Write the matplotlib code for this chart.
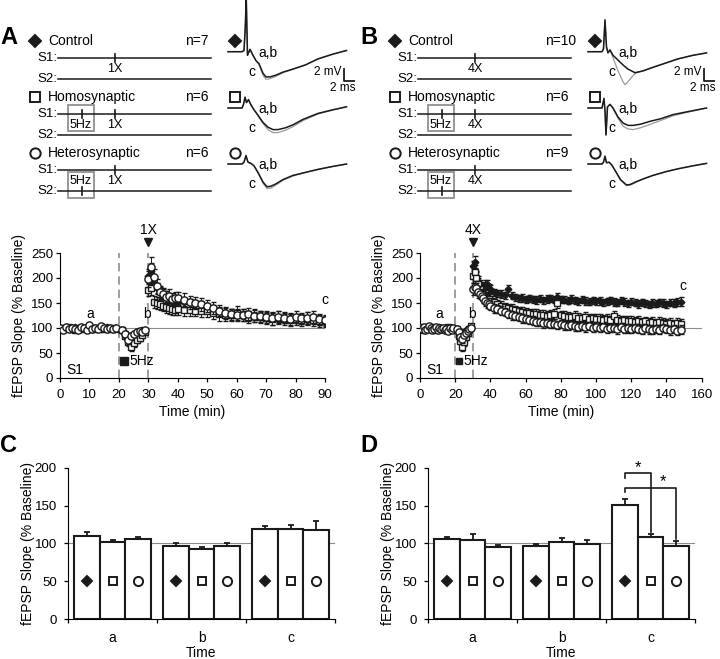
import numpy as np
import matplotlib
matplotlib.use('Agg')
from matplotlib import pyplot as plt
from matplotlib.patches import Rectangle

plt.rcParams['font.family'] = ['Liberation Sans', 'DejaVu Sans']

W, H = 720, 659
INK = '#1a1a1a'
GREY = '#8c8c8c'

# ---------------- time course data (fEPSP slope, % baseline) ----------------
# sampling: 1 min up to 40 min, then every 2 min
tA = np.r_[0:20, 21:30, 30:41, 42:91:2]
tB = np.r_[0:20, 21:30, 30:41, 42:149:2]

ctrlA = [100, 99, 101, 100, 98, 102, 100, 99, 101, 103,
         100, 98, 100, 101, 99, 100, 102, 100, 99, 100,
         96, 90, 85, 80, 88, 92, 95, 96, 97,
         205, 215, 190, 180, 172, 168, 165, 160, 158, 155, 155,
         152, 150, 148, 146, 142, 138, 135, 132, 130, 128,
         127, 126, 124, 125, 123, 122, 121, 120, 121, 119,
         118, 117, 116, 115, 114]
ctrlA_err = [2, 3, 2, 2, 3, 2, 2, 3, 2, 2,
             3, 2, 2, 2, 3, 2, 2, 2, 3, 2,
             4, 5, 6, 6, 5, 5, 4, 4, 4,
             14, 16, 12, 11, 10, 10, 9, 9, 9, 8, 8,
             8, 8, 9, 8, 8, 9, 8, 8, 9, 8,
             8, 9, 8, 8, 9, 8, 8, 9, 8, 8,
             9, 8, 8, 8, 9]
homoA = [101, 98, 100, 102, 99, 97, 101, 100, 98, 100,
         99, 101, 98, 100, 102, 99, 100, 98, 101, 99,
         96, 85, 72, 62, 70, 76, 80, 86, 93,
         176, 180, 152, 150, 148, 145, 142, 140, 138, 137, 138,
         137, 136, 135, 134, 134, 130, 128, 126, 127, 130,
         126, 122, 125, 122, 120, 118, 121, 119, 117, 118,
         116, 119, 117, 115, 114]
homoA_err = [3, 2, 3, 3, 2, 3, 2, 3, 2, 3,
             2, 3, 3, 2, 3, 2, 3, 2, 3, 2,
             5, 6, 7, 8, 7, 6, 6, 6, 5,
             12, 14, 12, 12, 12, 11, 11, 12, 12, 11, 12,
             12, 12, 11, 12, 12, 11, 13, 11, 12, 14,
             12, 12, 13, 12, 11, 12, 13, 12, 12, 11,
             12, 13, 12, 12, 11]
hetA = [100, 97, 103, 99, 101, 98, 96, 102, 100, 97,
        106, 98, 101, 99, 104, 100, 98, 101, 99, 100,
        97, 88, 76, 84, 88, 92, 95, 93, 96,
        198, 222, 203, 185, 172, 168, 162, 165, 158, 160, 160,
        156, 152, 150, 148, 145, 140, 135, 130, 128, 127,
        126, 128, 125, 124, 122, 120, 123, 121, 119, 122,
        120, 121, 123, 118, 116]
hetA_err = [3, 3, 4, 3, 3, 3, 4, 3, 3, 3,
            4, 3, 3, 3, 4, 3, 3, 3, 3, 3,
            6, 7, 8, 7, 6, 6, 5, 5, 5,
            16, 20, 16, 14, 13, 12, 12, 14, 12, 13, 12,
            14, 13, 12, 13, 12, 12, 11, 12, 11, 12,
            12, 13, 12, 11, 12, 13, 12, 11, 12, 12,
            11, 12, 12, 11, 10]

ctrlB = [100, 101, 99, 100, 102, 100, 98, 100, 101, 99,
         100, 102, 100, 99, 101, 100, 98, 100, 101, 100,
         98, 95, 92, 90, 93, 96, 98, 99, 100,
         225, 232, 205, 195, 188, 185, 182, 186, 188, 180, 178,
         172, 170, 168, 166, 178, 165, 162, 160, 161, 158,
         160, 158, 157, 159, 156, 158, 160, 157, 162, 158,
         157, 155, 158, 156, 154, 157, 155, 153, 156, 154,
         155, 152, 154, 156, 153, 151, 155, 152, 150, 153,
         151, 149, 152, 150, 148, 151, 149, 152, 150, 148,
         151, 150, 152, 153]
ctrlB_err = [2, 2, 3, 2, 2, 3, 2, 2, 2, 3,
             2, 2, 3, 2, 2, 2, 3, 2, 2, 2,
             4, 4, 5, 5, 4, 4, 4, 3, 3,
             10, 12, 9, 9, 8, 8, 8, 10, 9, 8, 8,
             7, 7, 8, 7, 9, 7, 7, 7, 8, 7,
             7, 7, 8, 7, 7, 8, 7, 7, 9, 7,
             7, 7, 8, 7, 7, 7, 8, 7, 7, 7,
             8, 7, 7, 7, 8, 7, 7, 8, 7, 7,
             7, 8, 7, 7, 7, 8, 7, 7, 8, 7,
             7, 8, 8, 9]
homoB = [102, 100, 97, 101, 99, 100, 98, 102, 100, 97,
         99, 101, 100, 98, 99, 100, 102, 99, 100, 98,
         97, 85, 75, 62, 72, 83, 90, 98, 104,
         205, 212, 200, 188, 178, 170, 165, 162, 160, 158, 155,
         152, 148, 145, 142, 140, 138, 136, 134, 133, 131,
         130, 128, 129, 127, 126, 125, 127, 128, 150, 126,
         124, 123, 122, 124, 121, 120, 122, 119, 120, 118,
         119, 117, 118, 116, 125, 117, 115, 116, 114, 115,
         113, 115, 112, 114, 111, 113, 110, 112, 111, 109,
         110, 108, 111, 109]
homoB_err = [3, 2, 3, 3, 2, 3, 2, 3, 3, 2,
             3, 2, 3, 3, 2, 3, 2, 3, 3, 2,
             5, 6, 7, 8, 7, 6, 6, 5, 5,
             14, 15, 13, 12, 12, 11, 11, 10, 10, 10, 10,
             9, 9, 10, 9, 9, 10, 9, 9, 10, 9,
             9, 10, 9, 9, 10, 9, 9, 10, 9, 9,
             10, 9, 9, 10, 9, 9, 10, 9, 9, 10,
             9, 9, 10, 9, 9, 10, 9, 9, 10, 9,
             9, 10, 9, 9, 10, 9, 9, 10, 9, 9,
             10, 9, 9, 10]
hetB = [100, 98, 102, 97, 99, 104, 101, 97, 99, 102,
        96, 100, 98, 101, 97, 99, 95, 100, 97, 101,
        99, 92, 82, 78, 86, 90, 95, 98, 100,
        178, 183, 180, 172, 168, 165, 160, 155, 150, 148, 145,
        140, 138, 135, 132, 128, 126, 124, 122, 120, 118,
        116, 115, 113, 112, 110, 111, 108, 109, 107, 108,
        106, 105, 107, 104, 103, 105, 102, 104, 101, 103,
        100, 102, 99, 101, 100, 98, 102, 99, 100, 98,
        101, 99, 97, 100, 98, 96, 99, 97, 100, 98,
        96, 99, 95, 97]
hetB_err = [3, 3, 4, 3, 3, 4, 3, 3, 3, 4,
            3, 3, 3, 4, 3, 3, 4, 3, 3, 3,
            5, 6, 7, 7, 6, 5, 5, 5, 4,
            12, 12, 11, 11, 10, 10, 10, 10, 10, 9, 9,
            9, 8, 9, 8, 8, 9, 8, 8, 9, 8,
            8, 9, 8, 8, 9, 8, 8, 9, 8, 8,
            9, 8, 8, 9, 8, 8, 9, 8, 8, 9,
            8, 8, 9, 8, 8, 9, 8, 8, 9, 8,
            8, 9, 8, 8, 9, 8, 8, 9, 8, 8,
            9, 8, 8, 9]

# ---------------- bar summaries (mean, sem) at a, b, c ----------------
groups = ['a', 'b', 'c']
barC = [[110, 97, 119], [102, 93, 119], [106, 96, 117]]
barC_err = [[5, 3, 4], [3, 2, 5], [3, 5, 13]]
barD = [[106, 97, 151], [105, 102, 109], [95, 99, 97]]
barD_err = [[2, 2, 7], [7, 5, 3], [3, 6, 6]]

# ---------------- example traces (ms, mV) ----------------
trA1_t = [0, 2.8, 3.2, 3.45, 3.65, 3.9, 4.4, 5.0, 5.6, 6.2, 7.0, 7.6, 8.4, 9.6, 11, 13, 15.5, 18, 21, 23.7]
trA1_ab = [0, 0, 0.2, 4.0, 9.0, -0.6, 0.4, -0.6, -1.5, -2.0, -3.6, -4.2, -4.2, -3.9, -3.4, -2.9, -2.2, -1.2, -0.4, 0.2]
trA1_c = [0, 0, 0.2, 4.0, 9.0, -0.6, 0.4, -0.6, -1.5, -2.1, -3.9, -4.6, -4.5, -4.1, -3.5, -2.9, -2.2, -1.2, -0.4, 0.2]
trA2_t = [0, 2.8, 3.1, 3.4, 3.7, 4.1, 4.6, 5.2, 6.0, 7.0, 8.0, 9.0, 10.0, 11.5, 13, 15, 18, 21, 23.7]
trA2_ab = [0, 0, 0.6, 1.8, 0.9, 1.4, 0.5, -0.3, -1.2, -2.4, -3.2, -3.6, -3.6, -3.3, -2.8, -1.9, -0.9, -0.3, 0.2]
trA2_c = [0, 0, 0.6, 1.8, 0.9, 1.4, 0.5, -0.3, -1.3, -2.6, -3.6, -4.1, -4.1, -3.7, -3.1, -2.1, -1.0, -0.3, 0.2]
trA3_t = [0, 2.8, 3.2, 3.6, 4.0, 4.6, 5.2, 6.0, 7.0, 7.8, 8.6, 9.6, 11, 13, 15.5, 18, 21, 23.7]
trA3_ab = [0, 0, 0.3, 1.4, 0.3, 0.1, -0.3, -1.4, -3.0, -3.8, -3.7, -3.3, -2.6, -1.9, -1.4, -0.9, -0.4, 0.0]
trA3_c = [0, 0, 0.3, 1.4, 0.3, 0.1, -0.3, -1.5, -3.2, -4.1, -4.0, -3.5, -2.7, -2.0, -1.4, -0.9, -0.4, 0.0]

trB1_t = [0, 2.8, 3.1, 3.4, 3.7, 4.0, 4.4, 5.0, 6.0, 7.0, 7.4, 8.0, 9.4, 11, 13, 15.5, 18, 21, 23.7]
trB1_ab = [0, 0, 0.5, 5.3, 0.8, -0.2, 0.3, -0.6, -1.4, -2.2, -2.5, -2.9, -3.5, -3.2, -2.6, -1.9, -1.2, -0.6, -0.2]
trB1_c = [0, 0, 0.5, 5.3, 0.8, -0.2, 0.3, -1.0, -3.2, -5.0, -5.5, -5.0, -3.6, -3.2, -2.6, -1.9, -1.2, -0.6, -0.2]
trB2_t = [0, 2.8, 3.2, 3.4, 3.6, 3.9, 4.4, 5.0, 6.0, 7.0, 8.0, 9.0, 10.5, 12.5, 14.5, 17, 20, 23.7]
trB2_ab = [0, 0, 1.6, -0.5, -4.5, 0.2, 0.6, 0.0, -1.5, -2.5, -2.9, -2.9, -2.7, -2.2, -1.8, -1.1, -0.6, 0.0]
trB2_c = [0, 0, 1.6, -0.5, -4.5, 0.2, 0.6, 0.0, -1.7, -3.0, -3.5, -3.6, -3.3, -2.7, -2.1, -1.3, -0.7, 0.0]
trB3_t = [0, 2.8, 3.1, 3.4, 3.7, 4.2, 4.8, 5.5, 6.5, 7.7, 8.5, 9.5, 11, 13, 15.5, 18, 21, 23.7]
trB3_ab = [0, 0, 0.3, 1.3, 0.2, 0.3, -0.2, -1.2, -2.6, -3.5, -3.4, -3.0, -2.5, -1.9, -1.3, -0.8, -0.3, 0.1]
trB3_c = [0, 0, 0.3, 1.3, 0.2, 0.3, -0.2, -1.2, -2.7, -3.6, -3.5, -3.1, -2.5, -1.9, -1.3, -0.8, -0.3, 0.1]

conds = ['Control', 'Homosynaptic', 'Heterosynaptic']
nA = [7, 6, 6]
nB = [10, 6, 9]

# marker style per condition: (marker, facecolor)
STY = [('D', INK), ('s', 'white'), ('o', 'white')]
MS_TC = [3.4, 4.6, 5.2]
MS_LEG = [6.0, 7.2, 7.4]
MS_BAR = [4.7, 6.0, 6.6]

fig = plt.figure(figsize=(W / 100, H / 100), dpi=100)


def px_rect(x0, y0, x1, y1):
    return [x0 / W, 1 - y1 / H, (x1 - x0) / W, (y1 - y0) / H]


# overlay axes in pixel units for the protocol schematics and labels
ax0 = fig.add_axes([0, 0, 1, 1])
ax0.set_xlim(0, W)
ax0.set_ylim(H, 0)
ax0.axis('off')


def schematic(ox, letter, stim, ns):
    ax0.text(ox + 0, 37, letter, fontsize=17, fontweight='bold', va='center', ha='left')
    hdr = [41, 97, 153]
    for k in range(3):
        y0 = hdr[k]
        m, fc = STY[k]
        ax0.plot(ox + 35, y0, marker=m, ms=MS_LEG[k], mfc=fc, mec=INK, mew=1.4, ls='none')
        ax0.text(ox + 48, y0, conds[k], fontsize=10, va='center', ha='left')
        ax0.text(ox + 185, y0, 'n=%d' % ns[k], fontsize=10, va='center', ha='left')
        s1 = y0 + 16.7
        s2 = y0 + 38
        for s, lab in ((s1, 'S1:'), (s2, 'S2:')):
            ax0.text(ox + 57, s, lab, fontsize=9.5, va='center', ha='right')
            ax0.plot([ox + 58, ox + 211], [s, s], color=INK, lw=1.1)
        ax0.plot([ox + 115, ox + 115], [s1 - 4, s1 + 4], color=INK, lw=1.2)
        ax0.text(ox + 115, s1 + 11.5, stim, fontsize=9, va='center', ha='center')
        if k > 0:
            sy = s1 if k == 1 else s2
            top = s1 - 8.3 if k == 1 else s1 + 2.7
            ax0.add_patch(Rectangle((ox + 68, top), 26, 25.5, fill=False, ec='#999999', lw=1.4))
            ax0.plot([ox + 82, ox + 82], [sy - 4, sy + 4], color=INK, lw=1.2)
            ax0.text(ox + 81, s1 + 11.5, '5Hz', fontsize=9, va='center', ha='center')
        # condition marker beside the traces
        ax0.plot(ox + 235, y0, marker=m, ms=MS_LEG[k], mfc=fc, mec=INK, mew=1.4, ls='none')


def traces(ox, rows):
    bases = [51.7, 108.0, 164.0]
    for k, (t, ab, c) in enumerate(rows):
        yb = bases[k]
        top, bot = yb - 52, yb + 40
        ax = fig.add_axes(px_rect(ox + 228, top, ox + 358, bot))
        ax.set_xlim(0, 130 / 5.0)
        ax.set_ylim(-(bot - yb) / 6.0, (yb - top) / 6.0)
        ax.axis('off')
        ax.plot(t, c, color='#9a9a9a', lw=0.9, clip_on=False)
        ax.plot(t, ab, color=INK, lw=1.1, clip_on=False)
        ax0.text(ox + 258, yb + 1, 'a,b', fontsize=10, va='center', ha='left')
        ax0.text(ox + 252, yb + 20.5, 'c', fontsize=10, va='center', ha='center')
        if k == 0:
            # scale bar 2 mV / 2 ms
            ax.plot([23.1, 23.1, 25.1], [-2.9, -4.9, -4.9], color=INK, lw=1.3, clip_on=False)
            ax.text(22.6, -3.4, '2 mV', fontsize=8.5, ha='right', va='center')
            ax.text(25.6, -6.0, '2 ms', fontsize=8.5, ha='right', va='center')


def timecourse(rect, t, series, xmax, xstep, stim, pos_a, pos_b, pos_c, hz_sq, hz_txt, s1_x, hz_ms):
    ax = fig.add_axes(rect)
    ax.axhline(100, color=GREY, lw=0.8, zorder=1)
    ax.vlines([20, 30], 0, 250, colors=GREY, linestyles=[(0, (5, 3))], lw=1.2, zorder=1)
    for k, (y, e) in enumerate(series):
        m, fc = STY[k]
        ax.errorbar(t, y, yerr=e, fmt=m, ms=MS_TC[k], mfc=fc, mec=INK, mew=1.0,
                    ecolor=INK, elinewidth=0.7, capsize=1.8, capthick=0.7, zorder=3 + k)
    ax.set_xlim(0, xmax)
    ax.set_ylim(0, 250)
    ax.set_xticks(np.arange(0, xmax + 1, xstep))
    ax.set_yticks(np.arange(0, 251, 50))
    for sp in ('top', 'right'):
        ax.spines[sp].set_visible(False)
    ax.tick_params(axis='both', direction='out', length=3, width=0.9, labelsize=9.5)
    ax.tick_params(axis='x', pad=5)
    ax.tick_params(axis='y', pad=2)
    ax.set_ylabel('fEPSP Slope (% Baseline)', fontsize=10)
    ax.yaxis.set_label_coords(-34 / (rect[2] * W), 0.5)
    ax.set_xlabel('Time (min)', fontsize=10)
    ax.xaxis.set_label_coords(0.5, -27 / (rect[3] * H))
    ax.plot(30, 272, marker='v', ms=6, color=INK, clip_on=False)
    ax.text(30, 297, stim, fontsize=10, ha='center', va='center')
    ax.text(pos_a[0], pos_a[1], 'a', fontsize=10, ha='center', va='center')
    ax.text(pos_b[0], pos_b[1], 'b', fontsize=10, ha='center', va='center')
    ax.text(pos_c[0], pos_c[1], 'c', fontsize=10, ha='center', va='center')
    ax.plot(hz_sq, 34, marker='s', ms=hz_ms, color=INK)
    ax.text(hz_txt, 34, '5Hz', fontsize=10, ha='left', va='center')
    ax.text(s1_x, 15, 'S1', fontsize=10, ha='left', va='center')
    return ax


BW = 0.29


def barpanel(rect, vals, errs, letter, letter_x):
    ax = fig.add_axes(rect)
    ax.axhline(100, color=GREY, lw=0.8, zorder=1)
    for k in range(3):
        x = np.arange(3) + 0.5 + (k - 1) * BW
        m, fc = STY[k]
        ax.bar(x, vals[k], width=BW, color='white', edgecolor=INK, lw=1.5, zorder=2)
        ax.errorbar(x, vals[k], yerr=[np.zeros(3), errs[k]], fmt='none', ecolor=INK,
                    elinewidth=1.3, capsize=2.2, capthick=1.3, zorder=3)
        ax.plot(x, [50] * 3, ls='none', marker=m, ms=MS_BAR[k], mfc=fc, mec=INK,
                mew=1.4, zorder=4)
    ax.set_xlim(0, 3)
    ax.set_ylim(0, 200)
    ax.set_yticks(np.arange(0, 201, 50))
    ax.set_xticks([0, 1, 2, 3])
    ax.set_xticklabels([])
    ax.set_xticks([0.5, 1.5, 2.5], minor=True)
    ax.set_xticklabels(groups, minor=True)
    for sp in ('top', 'right'):
        ax.spines[sp].set_visible(False)
    ax.tick_params(axis='both', direction='out', length=3, width=0.9, labelsize=9.5)
    ax.tick_params(axis='y', pad=5)
    ax.tick_params(axis='x', which='minor', length=0, pad=9, labelsize=10)
    ax.set_ylabel('fEPSP Slope (% Baseline)', fontsize=10)
    ax.yaxis.set_label_coords(-33 / (rect[2] * W), 0.5)
    ax.set_xlabel('Time', fontsize=10)
    ax.xaxis.set_label_coords(0.5, -27 / (rect[3] * H))
    ax0.text(letter_x, 446, letter, fontsize=17, fontweight='bold', va='center', ha='left')
    return ax


schematic(0, 'A', '1X', nA)
schematic(360, 'B', '4X', nB)
traces(0, [(trA1_t, trA1_ab, trA1_c), (trA2_t, trA2_ab, trA2_c), (trA3_t, trA3_ab, trA3_c)])
traces(360, [(trB1_t, trB1_ab, trB1_c), (trB2_t, trB2_ab, trB2_c), (trB3_t, trB3_ab, trB3_c)])

timecourse(px_rect(60, 253, 325, 378), tA,
           [(ctrlA, ctrlA_err), (homoA, homoA_err), (hetA, hetA_err)],
           90, 10, '1X', (10.2, 129), (29.5, 128), (90, 156), 21.7, 23.6, 2.3, 6)
timecourse(px_rect(420, 253, 701.7, 378), tB,
           [(ctrlB, ctrlB_err), (homoB, homoB_err), (hetB, hetB_err)],
           160, 20, '4X', (11, 127), (29.4, 127), (149.2, 185), 22.3, 24.6, 3.8, 5)

barpanel(px_rect(68, 467.7, 335, 619), barC, barC_err, 'C', 0)
axD = barpanel(px_rect(428, 467.7, 695, 619), barD, barD_err, 'D', 360)

# significance brackets in D (control vs homo, control vs hetero at time c)
xc = 2.5 + np.array([-BW, 0, BW])
for (j, yh, yl, star) in ((1, 193, 186, 200), (2, 173, 168, 181)):
    ytip = barD[j][2] + barD_err[j][2] + 3
    axD.plot([xc[0], xc[0], xc[j], xc[j]], [yl, yh, yh, ytip], color=INK, lw=1.2,
             clip_on=False, zorder=5)
    axD.text((xc[j - 1] + xc[j]) / 2, star, '*', fontsize=12, ha='center', va='center',
             clip_on=False)

fig.savefig('out.png', dpi=100)
